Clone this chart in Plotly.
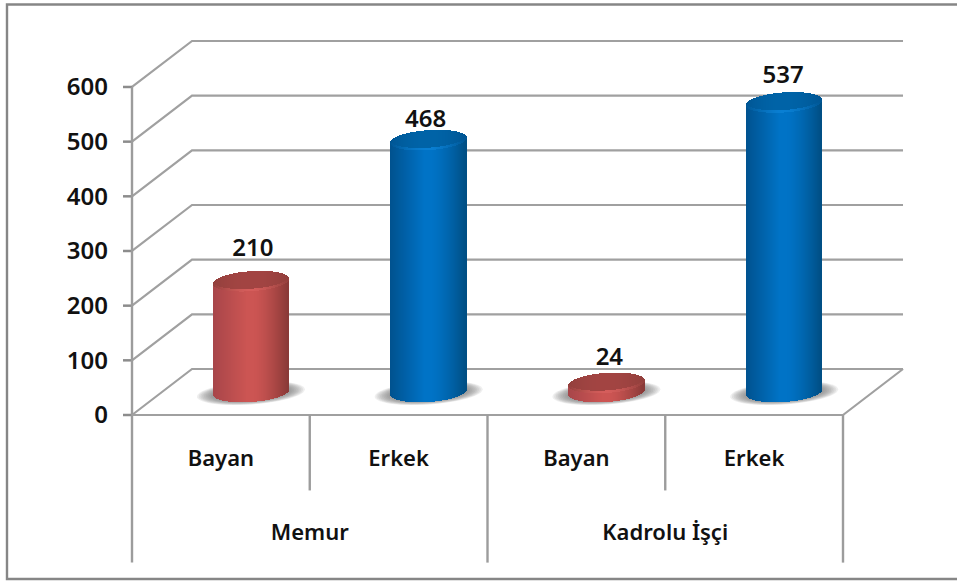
import numpy as np
import plotly.graph_objects as go

groups = ["Memur", "Kadrolu İşçi"]
categories = ["Bayan", "Erkek", "Bayan", "Erkek"]
values = [210, 468, 24, 537]
tick_values = [0, 100, 200, 300, 400, 500, 600]
kinds = ["red", "blue", "red", "blue"]
label_lift_px = [27, 15, 20, 21]
label_shift_px = [2, -3, 3, -1]

W, H = 957, 581
X0_PX, X_UNIT = 132.0, 177.75
Y0_PX, Y_UNIT = 415.0, 0.5467
DX = 60 / X_UNIT
DY = 46 / Y_UNIT
FONT = dict(family="Noto Sans", size=22, color="#111111", weight=600)
DIGITS = dict(family="Noto Sans", size=24, color="#111111", weight=600)
LINE = "#a0a0a0"

xr = [-X0_PX / X_UNIT, (W - X0_PX) / X_UNIT]
yr = [(Y0_PX - H) / Y_UNIT, Y0_PX / Y_UNIT]


def hx(px):
    return px / X_UNIT


def hy(px):
    return px / Y_UNIT


def hexmix(a, b, t):
    a = np.array([int(a[i:i + 2], 16) for i in (1, 3, 5)], float)
    b = np.array([int(b[i:i + 2], 16) for i in (1, 3, 5)], float)
    c = a + (b - a) * t
    return "rgb(%d,%d,%d)" % tuple(c)


PALETTE = {
    "red": dict(left="#a8464a", mid="#cc5553", right="#8a3a38", cap="#a34543", capd="#93403d", rim="#d65e5c"),
    "blue": dict(left="#00528f", mid="#0073c6", right="#004f85", cap="#0064a8", capd="#005694", rim="#0a80d4"),
}


def body_color(u, p):
    if u < 0.0:
        return hexmix(p["left"], p["mid"], min(1, (u + 1) / 0.9))
    return hexmix(p["mid"], p["right"], max(0, (u - 0.1) / 0.9) ** 1.4)


shapes = []
A, B, TILT = 37.5, 10.0, 0.0676


def poly(points, **kw):
    d = "M " + " L ".join(f"{x:.4f},{y:.2f}" for x, y in points)
    shapes.append(dict(type="path", path=d, xref="x", yref="y", layer="below", **kw))


def line(points, width=2.2, color=LINE):
    poly(points, line=dict(color=color, width=width))


# walls and floor
for v in tick_values:
    line([(0, v), (DX, v + DY), (4 + DX, v + DY)])
    line([(-hx(9), v), (0, v)], width=2.5, color="#8c8c8c")
line([(0, 600), (0, -270)], color="#9c9c9c", width=2.4)
line([(0, 0), (4, 0), (4 + DX, DY)])
for c in (2, 4):
    line([(c, 0), (c, -270)], color="#9c9c9c", width=2.4)
for c in (1, 3):
    line([(c, 0), (c, -138)], color="#9c9c9c", width=2.4)

# outer frame, cut by the right edge of the picture
shapes.append(dict(type="path", path=f"M 1,{1 - 4.5 / H} L {7 / W},{1 - 4.5 / H} L {7 / W},{1 - 579 / H} L 1,{1 - 579 / H}",
                   xref="paper", yref="paper", layer="below", line=dict(color="#868686", width=2.4)))

traces = []
for i, (v, kind) in enumerate(zip(values, kinds)):
    p = PALETTE[kind]
    cx = i + 0.5 + DX / 2
    base_y = DY / 2
    cap_y = v + DY / 2 - hy(4)
    # soft shadow on the floor
    th = np.linspace(0, 2 * np.pi, 50)
    for t in np.linspace(1, 0, 10):
        a_px, b_px = 38 + 16 * t, 8 + 3.5 * t
        pts = [(cx + hx(a_px) * np.cos(q),
                base_y - hy(1) + hy(b_px) * np.sin(q) + hy(TILT * a_px) * np.cos(q)) for q in th]
        d = "M " + " L ".join(f"{x:.4f},{y:.2f}" for x, y in pts) + " Z"
        shapes.append(dict(type="path", path=d, xref="x", yref="y", layer="below",
                           fillcolor="rgba(110,110,110,0.11)", line=dict(width=0)))

    n = 150
    us = (np.arange(n) + 0.5) / n * 2 - 1
    xs = cx + us * hx(A)
    slope = hy(TILT) * us * A
    arc = hy(B) * np.sqrt(1 - us ** 2)
    w = hx(2 * A / n) * 2.2
    bottom = base_y + slope - arc
    cap_low = cap_y + slope - arc
    cap_up = cap_y + slope + arc
    traces.append(go.Bar(x=xs, base=bottom, y=cap_low - bottom, width=w,
                         marker=dict(color=[body_color(u, p) for u in us], line=dict(width=0))))
    traces.append(go.Bar(x=xs, base=cap_low, y=np.full(n, hy(2.5)), width=w,
                         marker=dict(color=[hexmix(p["rim"], p["capd"], min(1, abs(u) ** 1.5)) for u in us], line=dict(width=0))))
    traces.append(go.Bar(x=xs, base=cap_low + hy(2.5), y=np.maximum(cap_up - cap_low - hy(2.5), 0), width=w,
                         marker=dict(color=[hexmix(p["cap"], p["capd"], abs(u) ** 2) for u in us], line=dict(width=0))))

# value labels
traces.append(go.Scatter(x=[i + 0.5 + DX / 2 + hx(s) for i, s in enumerate(label_shift_px)],
                         y=[v + DY / 2 + hy(l) for v, l in zip(values, label_lift_px)],
                         mode="text", text=[str(v) for v in values],
                         textposition="middle center", textfont=DIGITS, hoverinfo="skip"))
# category labels
traces.append(go.Scatter(x=[i + 0.5 for i in range(4)], y=[-84] * 4, mode="text", text=categories,
                         textposition="middle center", textfont=FONT, hoverinfo="skip"))
traces.append(go.Scatter(x=[1, 3], y=[-218] * 2, mode="text", text=groups,
                         textposition="middle center", textfont=FONT, hoverinfo="skip"))

fig = go.Figure(traces)
fig.update_layout(
    width=W, height=H, autosize=False, margin=dict(l=0, r=0, t=0, b=0),
    paper_bgcolor="white", plot_bgcolor="white", showlegend=False, barmode="overlay",
    bargap=0, shapes=shapes,
    xaxis=dict(range=xr, visible=False, domain=[0, 1], fixedrange=True),
    yaxis=dict(range=yr, domain=[0, 1], anchor="free", position=(X0_PX - 24) / W,
               tickmode="array", tickvals=tick_values, ticks="", showgrid=False, zeroline=False,
               showline=False, tickfont=DIGITS, ticklen=0, automargin=False, fixedrange=True),
)
fig.write_html("out.html", config=dict(displayModeBar=False),
               post_script="document.body.style.margin='0';document.body.style.overflow='hidden';")
